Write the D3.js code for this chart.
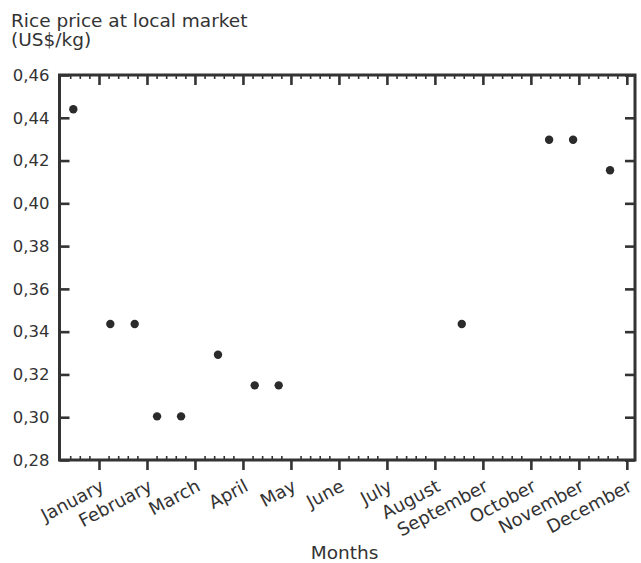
<!DOCTYPE html>
<html>
<head>
<meta charset="utf-8">
<script src="https://cdn.jsdelivr.net/npm/d3@7"></script>
<style>
  html, body { margin: 0; padding: 0; background: #fff; }
  svg { display: block; }
  text { font-family: "DejaVu Sans", "Liberation Sans", Arial, sans-serif; fill: #333; }
</style>
</head>
<body>
<svg id="chart" width="641" height="563"></svg>
<script>
// Month names shown under the major ticks
const monthLabels = ["January", "February", "March", "April", "May", "June",
  "July", "August", "September", "October", "November", "December"];
// Observation time, in months since the start of the year
const obsTime = [0.465, 1.236, 1.744, 2.21, 2.71, 3.48, 4.245, 4.745, 8.56, 10.38, 10.88, 11.65];
// Rice price (US$/kg) at each observation
const obsPrice = [0.444, 0.3436, 0.3436, 0.3004, 0.3004, 0.3292, 0.3149, 0.3149, 0.3436, 0.4297, 0.4297, 0.4155];
// Value-axis ticks
const priceTicks = [0.28, 0.30, 0.32, 0.34, 0.36, 0.38, 0.40, 0.42, 0.44, 0.46];

const svg = d3.select("#chart");
const plotL = 59.5, plotR = 635, plotT = 75, plotB = 460;
const ink = "#333";

const x = d3.scaleLinear().domain([0.177, 12.17]).range([plotL, plotR]);
const y = d3.scaleLinear().domain([0.28, 0.46]).range([plotB, plotT]);

const majorX = d3.range(1, 13);
const minorX = d3.range(0, 61).map(i => i * 0.2)
  .filter(v => Math.abs(v - Math.round(v)) > 1e-6 && v > x.domain()[0] + 0.1 && v < x.domain()[1] - 0.05);

const fmt = v => d3.format(".2f")(v).replace(".", ",");

function styleAxis(g, w) {
  g.select(".domain").remove();
  g.selectAll(".tick line").attr("stroke", ink).attr("stroke-width", w);
}

// bottom: major ticks outward with month names, minor ticks inward
svg.append("g").attr("transform", `translate(0,${plotB})`)
  .call(d3.axisBottom(x).tickValues(minorX).tickSize(-4).tickFormat(""))
  .call(g => styleAxis(g, 1.6));
const xb = svg.append("g").attr("transform", `translate(0,${plotB})`)
  .call(d3.axisBottom(x).tickValues(majorX).tickSize(10)
    .tickFormat((d, i) => monthLabels[i]))
  .call(g => styleAxis(g, 2.6));
xb.attr("font-family", null).attr("font-size", null);
xb.selectAll(".tick text")
  .attr("x", 0).attr("y", 0).attr("dy", 0)
  .attr("text-anchor", "end")
  .attr("transform", "translate(6,30) rotate(-28)")
  .style("font-size", "18px").attr("fill", ink);

// top: mirrored ticks pointing inward
svg.append("g").attr("transform", `translate(0,${plotT})`)
  .call(d3.axisTop(x).tickValues(minorX).tickSize(-4).tickFormat(""))
  .call(g => styleAxis(g, 1.6));
svg.append("g").attr("transform", `translate(0,${plotT})`)
  .call(d3.axisTop(x).tickValues(majorX).tickSize(-10).tickFormat(""))
  .call(g => styleAxis(g, 2.6));

// left and right value axes, ticks inward
const yl = svg.append("g").attr("transform", `translate(${plotL},0)`)
  .call(d3.axisLeft(y).tickValues(priceTicks).tickSize(-10).tickPadding(10).tickFormat(fmt))
  .call(g => styleAxis(g, 2.6));
yl.attr("font-family", null).attr("font-size", null);
yl.selectAll(".tick text").style("font-size", "16.5px").attr("fill", ink);
svg.append("g").attr("transform", `translate(${plotR},0)`)
  .call(d3.axisRight(y).tickValues(priceTicks).tickSize(-10).tickFormat(""))
  .call(g => styleAxis(g, 2.6));

// frame
svg.append("rect")
  .attr("x", plotL).attr("y", plotT)
  .attr("width", plotR - plotL).attr("height", plotB - plotT)
  .attr("fill", "none").attr("stroke", ink).attr("stroke-width", 3);

// observations
svg.append("g").selectAll("circle")
  .data(obsTime.map((t, i) => [t, obsPrice[i]]))
  .join("circle")
  .attr("cx", d => x(d[0])).attr("cy", d => y(d[1]))
  .attr("r", 4.2).attr("fill", "#2b2b2b");

// titles
svg.append("text").attr("x", 11).attr("y", 26.5)
  .style("font-size", "18.5px").text("Rice price at local market");
svg.append("text").attr("x", 11).attr("y", 46)
  .style("font-size", "18.5px").text("(US$/kg)");
svg.append("text").attr("x", (310 + 379) / 2).attr("y", 559)
  .attr("text-anchor", "middle")
  .style("font-size", "18.5px").text("Months");
</script>
</body>
</html>
